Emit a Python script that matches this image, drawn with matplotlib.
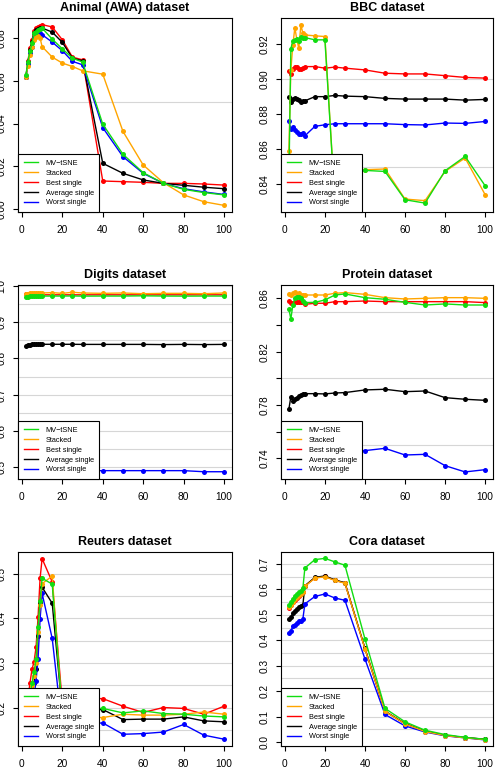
import numpy as np
import matplotlib
matplotlib.use("Agg")
import matplotlib.pyplot as plt

plt.rcParams['font.family'] = ['Liberation Sans', 'DejaVu Sans']

# embedding dimension / perplexity steps on the x axis
x = [2, 3, 4, 5, 6, 7, 8, 9, 10, 15, 20, 25, 30, 40, 50, 60, 70, 80, 90, 100]

series_names = ["MV\u2212tSNE", "Stacked", "Best single", "Average single", "Worst single"]
series_colors = ["#11dd11", "#ffa500", "#ff0000", "#000000", "#0000ff"]

# Animal (AWA)
awa_mv = [0.0627, 0.069, 0.0738, 0.0777, 0.0823, 0.083, 0.084, 0.0842, 0.0847, 0.0795,
          0.075, 0.0706, 0.0688, 0.0397, 0.0256, 0.017, 0.012, 0.0092, 0.0077, 0.0066]
awa_stacked = [0.062, 0.067, 0.072, 0.076, 0.079, 0.0805, 0.081, 0.080, 0.076, 0.0711,
               0.0683, 0.0667, 0.0647, 0.0631, 0.0363, 0.0206, 0.0123, 0.0066, 0.0034, 0.0017]
awa_best = [0.062, 0.0694, 0.0753, 0.079, 0.0831, 0.0847, 0.0852, 0.0855, 0.0863, 0.0852,
            0.0792, 0.0711, 0.0698, 0.0131, 0.0128, 0.0125, 0.012, 0.012, 0.0117, 0.0112]
awa_avg = [0.062, 0.0686, 0.0745, 0.0784, 0.0823, 0.0838, 0.0842, 0.0845, 0.0847, 0.0828,
           0.078, 0.0706, 0.0694, 0.0214, 0.0167, 0.0136, 0.012, 0.0111, 0.0102, 0.0095]
awa_worst = [0.0616, 0.068, 0.073, 0.076, 0.080, 0.0816, 0.082, 0.0823, 0.0816, 0.0781,
             0.0741, 0.0691, 0.0675, 0.0381, 0.0245, 0.0167, 0.012, 0.0095, 0.008, 0.0068]

# BBC
bbc_mv = [0.84, 0.9175, 0.922, 0.9225, 0.9228, 0.922, 0.924, 0.9238, 0.9238, 0.9225,
          0.9225, 0.83, 0.845, 0.8478, 0.8472, 0.831, 0.8291, 0.8476, 0.8558, 0.839]
bbc_stacked = [0.859, 0.9053, 0.9196, 0.9295, 0.9225, 0.9177, 0.931, 0.9263, 0.9253, 0.9248,
               0.9244, 0.83, 0.845, 0.8482, 0.8486, 0.8314, 0.8305, 0.8472, 0.8549, 0.8339]
bbc_best = [0.9044, 0.903, 0.9057, 0.9072, 0.9072, 0.906, 0.906, 0.9062, 0.9072, 0.9072,
            0.9063, 0.9069, 0.9063, 0.9053, 0.9034, 0.903, 0.903, 0.902, 0.901, 0.9006]
bbc_avg = [0.89, 0.8872, 0.8886, 0.889, 0.8886, 0.8878, 0.8872, 0.8874, 0.8876, 0.89,
           0.89, 0.8907, 0.8903, 0.89, 0.889, 0.8886, 0.8886, 0.8886, 0.888, 0.8884]
bbc_worst = [0.8758, 0.8716, 0.8724, 0.871, 0.8695, 0.8688, 0.8686, 0.869, 0.8676, 0.873,
             0.8739, 0.8745, 0.8745, 0.8745, 0.8745, 0.874, 0.8738, 0.8749, 0.8747, 0.8758]

# Digits
dig_mv = [0.968, 0.970, 0.9705, 0.971, 0.971, 0.971, 0.9712, 0.9712, 0.9715, 0.9716,
          0.9716, 0.9718, 0.9714, 0.9716, 0.9716, 0.9722, 0.9716, 0.9714, 0.9716, 0.9716]
dig_stacked = [0.977, 0.978, 0.979, 0.980, 0.979, 0.980, 0.980, 0.980, 0.980, 0.981,
               0.979, 0.982, 0.980, 0.979, 0.980, 0.978, 0.979, 0.979, 0.978, 0.980]
dig_best = [0.976, 0.976, 0.975, 0.975, 0.975, 0.975, 0.975, 0.975, 0.975, 0.975,
            0.975, 0.975, 0.975, 0.975, 0.975, 0.975, 0.975, 0.975, 0.975, 0.975]
dig_avg = [0.835, 0.837, 0.838, 0.8385, 0.8385, 0.8385, 0.8385, 0.8388, 0.8388, 0.8388,
           0.8388, 0.8388, 0.8385, 0.8385, 0.8385, 0.8385, 0.838, 0.8385, 0.838, 0.8385]
dig_worst = [0.490, 0.490, 0.490, 0.490, 0.490, 0.490, 0.490, 0.490, 0.490, 0.490,
             0.490, 0.490, 0.490, 0.491, 0.491, 0.491, 0.491, 0.491, 0.488, 0.488]

# Protein
pro_mv = [0.852, 0.8445, 0.855, 0.860, 0.8613, 0.861, 0.8605, 0.8583, 0.8568, 0.857,
          0.8588, 0.8625, 0.8633, 0.8605, 0.8593, 0.857, 0.855, 0.8558, 0.855, 0.855]
pro_stacked = [0.8633, 0.8625, 0.8638, 0.865, 0.863, 0.8638, 0.8625, 0.8625, 0.8625, 0.8625,
               0.8625, 0.8638, 0.8643, 0.863, 0.8605, 0.8595, 0.860, 0.8605, 0.8605, 0.860]
pro_best = [0.858, 0.8563, 0.8563, 0.8575, 0.8575, 0.857, 0.857, 0.857, 0.8555, 0.8563,
            0.8563, 0.8575, 0.8575, 0.858, 0.8575, 0.8575, 0.8575, 0.8575, 0.8575, 0.8568]
pro_avg = [0.7768, 0.7862, 0.7833, 0.7843, 0.7855, 0.7868, 0.7875, 0.7885, 0.7885, 0.7885,
           0.7883, 0.789, 0.7893, 0.7913, 0.7918, 0.790, 0.7905, 0.7855, 0.7843, 0.7835]
pro_worst = [0.744, 0.745, 0.746, 0.746, 0.746, 0.746, 0.746, 0.746, 0.746, 0.746,
             0.746, 0.746, 0.746, 0.7458, 0.7475, 0.7425, 0.743, 0.7345, 0.7298, 0.7315]

# Reuters
reu_mv = [0.18, 0.20, 0.23, 0.255, 0.28, 0.308, 0.38, 0.44, 0.49, 0.477,
          0.19, 0.195, 0.198, 0.198, 0.188, 0.1925, 0.1865, 0.185, 0.181, 0.179]
reu_stacked = [0.18, 0.20, 0.225, 0.25, 0.27, 0.30, 0.37, 0.43, 0.478, 0.495,
               0.185, 0.18, 0.178, 0.1775, 0.185, 0.183, 0.183, 0.185, 0.19, 0.185]
reu_best = [0.20, 0.22, 0.255, 0.286, 0.302, 0.335, 0.4025, 0.49, 0.534, 0.482,
            0.21, 0.215, 0.22, 0.22, 0.203, 0.189, 0.20, 0.198, 0.185, 0.203]
reu_avg = [0.17, 0.19, 0.21, 0.235, 0.255, 0.286, 0.361, 0.436, 0.47, 0.434,
           0.19, 0.19, 0.193, 0.1955, 0.173, 0.174, 0.174, 0.179, 0.17, 0.168]
reu_worst = [0.15, 0.17, 0.18, 0.20, 0.225, 0.26, 0.31, 0.399, 0.456, 0.355,
             0.153, 0.16, 0.163, 0.1655, 0.14, 0.1415, 0.145, 0.162, 0.138, 0.129]

# Cora
cora_mv = [0.537, 0.55, 0.563, 0.575, 0.583, 0.589, 0.595, 0.605, 0.684, 0.717,
           0.722, 0.708, 0.695, 0.405, 0.132, 0.079, 0.046, 0.029, 0.018, 0.0105]
cora_stacked = [0.53, 0.54, 0.552, 0.562, 0.57, 0.576, 0.582, 0.59, 0.612, 0.644,
                0.65, 0.635, 0.624, 0.366, 0.12, 0.071, 0.041, 0.025, 0.016, 0.009]
cora_best = [0.528, 0.538, 0.55, 0.56, 0.568, 0.574, 0.58, 0.588, 0.613, 0.645,
             0.651, 0.636, 0.625, 0.367, 0.12, 0.072, 0.042, 0.026, 0.017, 0.010]
cora_avg = [0.483, 0.49, 0.507, 0.516, 0.524, 0.529, 0.533, 0.539, 0.614, 0.647,
            0.653, 0.637, 0.626, 0.368, 0.121, 0.072, 0.042, 0.026, 0.017, 0.0105]
cora_worst = [0.43, 0.437, 0.454, 0.46, 0.467, 0.474, 0.474, 0.484, 0.543, 0.572,
              0.582, 0.566, 0.557, 0.326, 0.108, 0.063, 0.039, 0.024, 0.016, 0.008]

panels = [
    ("Animal (AWA) dataset", [awa_mv, awa_stacked, awa_best, awa_avg, awa_worst],
     (-0.0014, 0.0894), [0.0, 0.02, 0.04, 0.06, 0.08], [0.0, 0.02, 0.04, 0.06, 0.08], "{:.2f}"),
    ("BBC dataset", [bbc_mv, bbc_stacked, bbc_best, bbc_avg, bbc_worst],
     (0.824, 0.935), [0.84, 0.86, 0.88, 0.90, 0.92], [0.84, 0.86, 0.88, 0.90, 0.92], "{:.2f}"),
    ("Digits dataset", [dig_mv, dig_stacked, dig_best, dig_avg, dig_worst],
     (0.468, 1.002), [0.5, 0.6, 0.7, 0.8, 0.9, 1.0], [0.5, 0.6, 0.7, 0.8, 0.9, 1.0], "{:.1f}"),
    ("Protein dataset", [pro_mv, pro_stacked, pro_best, pro_avg, pro_worst],
     (0.7245, 0.870), [0.74, 0.76, 0.78, 0.80, 0.82, 0.84, 0.86], [0.74, 0.78, 0.82, 0.86], "{:.2f}"),
    ("Reuters dataset", [reu_mv, reu_stacked, reu_best, reu_avg, reu_worst],
     (0.1137, 0.549), [0.2, 0.3, 0.4, 0.5], [0.2, 0.3, 0.4, 0.5], "{:.1f}"),
    ("Cora dataset", [cora_mv, cora_stacked, cora_best, cora_avg, cora_worst],
     (-0.016, 0.747), [0.0, 0.1, 0.2, 0.3, 0.4, 0.5, 0.6, 0.7], [0.0, 0.1, 0.2, 0.3, 0.4, 0.5, 0.6, 0.7], "{:.1f}"),
]

W, H = 504, 775
col_left = [18, 281]
col_width = [214, 212]
row_top = [18, 285, 552]
ax_height = 194

fig = plt.figure(figsize=(W / 100, H / 100), dpi=100)

for i, (title, ys, ylim, yticks, ylabeled, fmt) in enumerate(panels):
    r, c = divmod(i, 2)
    ax = fig.add_axes([col_left[c] / W, 1 - (row_top[r] + ax_height) / H,
                       col_width[c] / W, ax_height / H])

    # light reference lines every 0.05
    for h in np.arange(0.05, 1.001, 0.05):
        if ylim[0] < h < ylim[1]:
            ax.axhline(h, color="#d6d6d6", lw=0.8, zorder=0)

    # draw order: best, average, worst, stacked, mv-tsne on top
    for k in [2, 3, 4, 1, 0]:
        ax.plot(x, ys[k], color=series_colors[k], lw=1.0, marker="o",
                markersize=3.6, markeredgewidth=0, label=series_names[k])

    ax.set_xlim(-1.92, 103.92)
    ax.set_ylim(*ylim)
    ax.set_xticks([0, 20, 40, 60, 80, 100])
    ax.set_yticks(yticks)
    ax.set_yticklabels([fmt.format(t) if any(abs(t - l) < 1e-9 for l in ylabeled) else ""
                        for t in yticks], rotation=90, va="center")
    ax.tick_params(axis="both", direction="out", length=3.6, width=0.8,
                   labelsize=7.3, color="black")
    ax.tick_params(axis="x", pad=5.5)
    ax.tick_params(axis="y", pad=4.5)
    for sp in ax.spines.values():
        sp.set_linewidth(0.8)
        sp.set_color("black")
    ax.set_title(title, fontsize=9, fontweight="bold", pad=5.0)

    handles, labels = ax.get_legend_handles_labels()
    order = [labels.index(n) for n in series_names]
    leg = ax.legend([handles[j] for j in order], [labels[j] for j in order],
                    loc="lower left", borderaxespad=0, fontsize=5.3, frameon=True,
                    fancybox=False, edgecolor="black", framealpha=1,
                    handlelength=2.0, handletextpad=1.0, labelspacing=0.38,
                    borderpad=0.75)
    for hl in leg.get_lines():
        hl.set_marker("")
        hl.set_linewidth(1.0)
    leg.get_frame().set_linewidth(0.8)
    leg.set_zorder(5)

fig.savefig("out.png", dpi=100)
